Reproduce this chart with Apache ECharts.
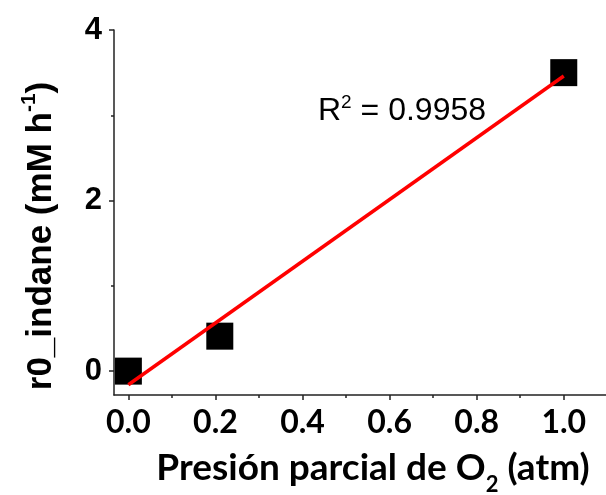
<!DOCTYPE html>
<html>
<head>
<meta charset="utf-8">
<script src="https://cdn.jsdelivr.net/npm/echarts@6/dist/echarts.min.js"></script>
<style>
  html, body { margin: 0; padding: 0; background: #fff; }
  #chart { width: 606px; height: 495px; }
</style>
</head>
<body>
<div id="chart"></div>
<script>
// Measured rate of indane consumption vs. O2 partial pressure
const pressure = [0.0, 0.21, 1.0];
const rate = [0.0, 0.41, 3.5];

// Linear fit line endpoints
const fitX = [0.0, 1.0];
const fitY = [-0.16, 3.46];

// Tick positions and labels
const xMajorTicks = [0.0, 0.2, 0.4, 0.6, 0.8, 1.0];
const xMinorTicks = [0.1, 0.3, 0.5, 0.7, 0.9];
const yMajorTicks = [0, 2, 4];
const yMinorTicks = [1, 3];

const xTitle = 'Presión parcial de O';
const yTitle = 'r0_indane (mM h';
const fitLabel = '0.9958';

const chart = echarts.init(document.getElementById('chart'), null, { renderer: 'canvas' });

const axisColor = '#222';
const arial = '"Liberation Sans", Arial, sans-serif';
const humanist = 'Lato, "Open Sans", sans-serif';

const xRange = { min: -0.033, max: 1.097 };
const yRange = { min: -0.28, max: 4 };

chart.setOption({
  animation: false,
  backgroundColor: '#fff',
  grid: { left: 114, top: 30, right: -1, bottom: 100 },
  xAxis: [
    {
      type: 'value', position: 'bottom', min: xRange.min, max: xRange.max,
      axisLine: { show: true, onZero: false, lineStyle: { color: axisColor, width: 1.5 } },
      axisTick: { show: true, customValues: xMajorTicks, length: 5, lineStyle: { color: axisColor, width: 1.5 } },
      axisLabel: {
        customValues: xMajorTicks, margin: 12,
        formatter: v => v.toFixed(1),
        fontFamily: humanist, fontWeight: 'bold', fontSize: 32, color: '#000'
      },
      splitLine: { show: false }
    },
    {
      type: 'value', position: 'bottom', min: xRange.min, max: xRange.max,
      axisLine: { show: false, onZero: false },
      axisTick: { show: true, customValues: xMinorTicks, length: 3, lineStyle: { color: axisColor, width: 1.5 } },
      axisLabel: { show: false },
      splitLine: { show: false }
    }
  ],
  yAxis: [
    {
      type: 'value', position: 'left', min: yRange.min, max: yRange.max,
      axisLine: { show: true, onZero: false, lineStyle: { color: axisColor, width: 1.5 } },
      axisTick: { show: true, customValues: yMajorTicks, length: 5, lineStyle: { color: axisColor, width: 1.5 } },
      axisLabel: {
        customValues: yMajorTicks, margin: 12,
        fontFamily: arial, fontWeight: 'bold', fontSize: 31, color: '#000'
      },
      splitLine: { show: false }
    },
    {
      type: 'value', position: 'left', min: yRange.min, max: yRange.max,
      axisLine: { show: false, onZero: false },
      axisTick: { show: true, customValues: yMinorTicks, length: 3, lineStyle: { color: axisColor, width: 1.5 } },
      axisLabel: { show: false },
      splitLine: { show: false }
    }
  ],
  series: [
    {
      type: 'scatter',
      data: pressure.map((p, i) => [p, rate[i]]),
      symbol: 'rect', symbolSize: 27,
      itemStyle: { color: '#000', opacity: 1 },
      z: 2
    },
    {
      type: 'line',
      data: fitX.map((x, i) => [x, fitY[i]]),
      showSymbol: false,
      lineStyle: { color: '#ff0000', width: 3.5 },
      z: 3
    }
  ],
  graphic: [
    {
      type: 'text', left: 318, top: 93,
      style: {
        text: '{r|R}{sup|2}{r| = ' + fitLabel + '}',
        rich: {
          r: { fontFamily: arial, fontSize: 32, color: '#000', lineHeight: 34, verticalAlign: 'bottom' },
          sup: { fontFamily: arial, fontSize: 19, color: '#000', lineHeight: 34, verticalAlign: 'top' }
        }
      }
    },
    {
      type: 'text', x: 373, y: 470,
      style: {
        text: '{t|' + xTitle + '}{sub|2}{t| (atm)}',
        align: 'center', verticalAlign: 'middle',
        rich: {
          t: { fontFamily: humanist, fontWeight: 'bold', fontSize: 37, color: '#000', lineHeight: 40, verticalAlign: 'top' },
          sub: { fontFamily: humanist, fontWeight: 'bold', fontSize: 22, color: '#000', lineHeight: 40, verticalAlign: 'bottom', padding: [0, 0, -6, 0] }
        }
      }
    },
    {
      type: 'text', x: 39, y: 236, rotation: Math.PI / 2,
      style: {
        text: '{t|' + yTitle + '}{sup|-1}{t|)}',
        align: 'center', verticalAlign: 'middle',
        rich: {
          t: { fontFamily: arial, fontWeight: 'bold', fontSize: 35, color: '#000', lineHeight: 40, verticalAlign: 'bottom' },
          sup: { fontFamily: arial, fontWeight: 'bold', fontSize: 21, color: '#000', lineHeight: 40, verticalAlign: 'top' }
        }
      }
    }
  ]
});
</script>
</body>
</html>
